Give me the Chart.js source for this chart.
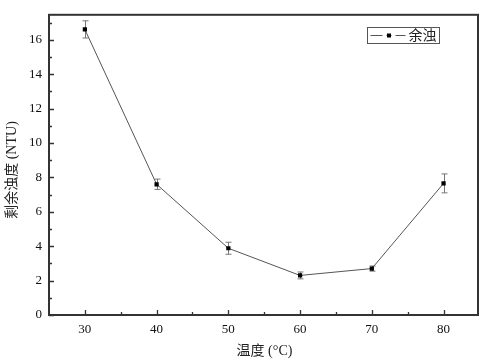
<!DOCTYPE html>
<html>
<head>
<meta charset="utf-8">
<script src="https://cdn.jsdelivr.net/npm/chart.js@4/dist/chart.umd.min.js"></script>
<style>
html,body{margin:0;padding:0;background:#fff;}
#wrap{width:484px;height:363px;}
</style>
</head>
<body>
<div id="wrap"><canvas id="c" width="484" height="363"></canvas></div>
<script>
const temps = [30, 40, 50, 60, 70, 80];
const turbidity = [16.6, 7.6, 3.88, 2.3, 2.7, 7.65];
const errors = [0.5, 0.3, 0.35, 0.2, 0.15, 0.55];
const xTicks = [30, 40, 50, 60, 70, 80];
const yTicks = [0, 2, 4, 6, 8, 10, 12, 14, 16];
const seriesLabel = '余浊';
const xTitle = '温度 (°C)';
const yTitle = '剩余浊度 (NTU)';

const serif = "'Liberation Serif', 'Times New Roman', serif";
const cjk = "'Liberation Serif', 'Noto Sans CJK SC', serif";

const decor = {
  id: 'decor',
  beforeDatasetsDraw(chart) {
    const ctx = chart.ctx;
    const xs = chart.scales.x, ys = chart.scales.y;
    ctx.save();
    ctx.strokeStyle = '#777';
    ctx.lineWidth = 1;
    temps.forEach((t, i) => {
      const px = Math.round(xs.getPixelForValue(t)) + 0.5;
      const yTop = ys.getPixelForValue(turbidity[i] + errors[i]);
      const yBot = ys.getPixelForValue(turbidity[i] - errors[i]);
      ctx.beginPath();
      ctx.moveTo(px, yTop); ctx.lineTo(px, yBot);
      ctx.moveTo(px - 3, yTop); ctx.lineTo(px + 3, yTop);
      ctx.moveTo(px - 3, yBot); ctx.lineTo(px + 3, yBot);
      ctx.stroke();
    });
    ctx.restore();
  },
  afterDraw(chart) {
    const ctx = chart.ctx;
    const a = chart.chartArea;
    const xs = chart.scales.x, ys = chart.scales.y;
    ctx.save();
    // frame
    ctx.strokeStyle = '#333';
    ctx.lineWidth = 2;
    ctx.strokeRect(a.left, a.top, a.right - a.left, a.bottom - a.top);
    // inward ticks
    ctx.lineWidth = 1.3;
    ctx.beginPath();
    yTicks.forEach((v, i) => {
      const y = Math.round(ys.getPixelForValue(v)) + 0.5;
      ctx.moveTo(a.left, y); ctx.lineTo(a.left + 5, y);
      if (i < yTicks.length - 1) {
        const ym = Math.round(ys.getPixelForValue((v + yTicks[i + 1]) / 2)) + 0.5;
        ctx.moveTo(a.left, ym); ctx.lineTo(a.left + 3, ym);
      }
    });
    const ylast = yTicks[yTicks.length - 1] + (yTicks[1] - yTicks[0]) / 2;
    if (ylast < ys.max) {
      const ym = Math.round(ys.getPixelForValue(ylast)) + 0.5;
      ctx.moveTo(a.left, ym); ctx.lineTo(a.left + 3, ym);
    }
    const xstep = xTicks[1] - xTicks[0];
    xTicks.forEach((v) => {
      const x = Math.round(xs.getPixelForValue(v)) + 0.5;
      ctx.moveTo(x, a.bottom); ctx.lineTo(x, a.bottom - 5);
      [v - xstep / 2, v + xstep / 2].forEach(m => {
        if (m > xs.min && m < xs.max) {
          const xm = Math.round(xs.getPixelForValue(m)) + 0.5;
          ctx.moveTo(xm, a.bottom); ctx.lineTo(xm, a.bottom - 3);
        }
      });
    });
    ctx.stroke();
    // axis titles
    ctx.fillStyle = '#222';
    ctx.font = '14px ' + cjk;
    ctx.textAlign = 'center';
    ctx.textBaseline = 'middle';
    ctx.fillText(xTitle, (a.left + a.right) / 2 + 1, 351);
    ctx.save();
    ctx.translate(12, 170);
    ctx.rotate(-Math.PI / 2);
    ctx.fillText(yTitle, 0, 0);
    ctx.restore();
    // legend
    const lx = 367.5, ly = 27.5, lw = 72, lh = 16;
    ctx.strokeStyle = '#555';
    ctx.lineWidth = 1;
    ctx.strokeRect(lx, ly, lw, lh);
    const cy = ly + lh / 2;
    ctx.beginPath();
    ctx.moveTo(lx + 3, cy); ctx.lineTo(lx + 38, cy);
    ctx.stroke();
    ctx.fillStyle = '#fff';
    ctx.fillRect(lx + 15, cy - 2, 4, 4);
    ctx.fillRect(lx + 24, cy - 2, 4, 4);
    ctx.fillStyle = '#000';
    ctx.fillRect(lx + 19.5, cy - 2, 4, 4);
    ctx.fillStyle = '#222';
    ctx.font = '14px ' + cjk;
    ctx.textAlign = 'left';
    ctx.fillText(chart.data.datasets[0].label, lx + 41, cy + 0.5);
    ctx.restore();
  }
};

new Chart(document.getElementById('c'), {
  type: 'line',
  data: {
    datasets: [{
      label: seriesLabel,
      data: temps.map((t, i) => ({ x: t, y: turbidity[i] })),
      borderColor: '#555',
      borderWidth: 1,
      pointStyle: 'rect',
      pointRadius: 3,
      pointBackgroundColor: '#000',
      pointBorderColor: '#000',
      pointBorderWidth: 0,
      tension: 0,
      fill: false
    }]
  },
  options: {
    responsive: false,
    animation: false,
    layout: { padding: { top: 3, right: 6, left: 0, bottom: 0 } },
    plugins: { legend: { display: false }, tooltip: { enabled: false } },
    scales: {
      x: {
        type: 'linear',
        min: 25, max: 84.8,
        grid: { display: false, drawTicks: false },
        border: { display: false },
        afterBuildTicks: s => { s.ticks = xTicks.map(v => ({ value: v })); },
        afterFit: s => { s.height = 48; },
        ticks: { padding: 7, color: '#111', font: { family: serif, size: 13 }, maxRotation: 0 }
      },
      y: {
        min: 0, max: 17.45,
        grid: { display: false, drawTicks: false },
        border: { display: false },
        afterBuildTicks: s => { s.ticks = yTicks.map(v => ({ value: v })); },
        afterFit: s => { s.width = 49; },
        ticks: { padding: 7, color: '#111', font: { family: serif, size: 13 } }
      }
    }
  },
  plugins: [decor]
});
</script>
</body>
</html>
